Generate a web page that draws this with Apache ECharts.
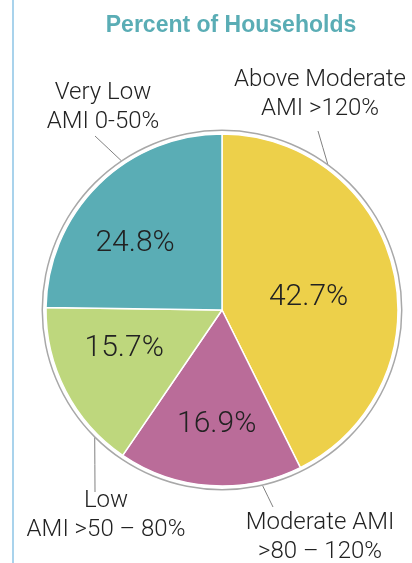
<!DOCTYPE html>
<html>
<head>
<meta charset="utf-8">
<script src="https://cdn.jsdelivr.net/npm/echarts@6/dist/echarts.min.js"></script>
<style>
  html, body { margin: 0; padding: 0; background: #fff; }
  #chart { width: 412px; height: 563px; }
</style>
</head>
<body>
<div id="chart"></div>
<script>
// data, clockwise from 12 o'clock
const categories = ["Above Moderate\nAMI >120%", "Moderate AMI\n>80 – 120%", "Low\nAMI >50 – 80%", "Very Low\nAMI 0-50%"];
const shares = [42.7, 16.9, 15.7, 24.8];
const colors = ["#EDD04A", "#BA6C99", "#BED77D", "#5AADB5"];

// where the outside names sit
const namePos = [[320, 94], [320, 537], [106, 515], [103, 107]];
// leader lines: angle where they touch the ring, and their far end relative to the name
const leadAngle = [54, -77, 225, 124];
const leadEnd = [[-2, 37], [-47, -30], [-11, -23], [-8, 29]];
// nudges for the percent labels
const pctShift = [[-2, 8], [1, 24], [-17, -3], [-23, -2]];

const chart = echarts.init(document.getElementById("chart"));

const center = [222, 310];
const ringR = 180;

const option = {
  animation: false,
  title: {
    text: "Percent of Households",
    left: 226,
    top: 9,
    textAlign: "center",
    textStyle: { color: "#5AADB5", fontSize: 23, fontWeight: "bold", fontFamily: "Liberation Sans" }
  },
  graphic: [
    { type: "line", shape: { x1: 13, y1: 0, x2: 13, y2: 563 }, style: { stroke: "#A9D3EC", lineWidth: 2 } }
  ],
  series: [
    // outer thin ring
    {
      type: "pie",
      silent: true,
      center: center,
      radius: [ringR - 1, ringR + 0.5],
      label: { show: false },
      labelLine: { show: false },
      itemStyle: { color: "#A8A8A8" },
      data: [1]
    },
    // slices + percentages
    {
      type: "pie",
      silent: true,
      center: center,
      radius: 176,
      startAngle: 90,
      clockwise: true,
      itemStyle: { borderColor: "#fff", borderWidth: 1.5 },
      label: {
        position: "inside",
        formatter: "{c}%",
        color: "#222",
        fontSize: 30,
        fontFamily: "Roboto",
        fontWeight: 300
      },
      labelLine: { show: false },
      labelLayout: function (p) {
        return { dx: pctShift[p.dataIndex][0], dy: pctShift[p.dataIndex][1] };
      },
      data: shares.map((v, i) => ({ value: v, name: categories[i], itemStyle: { color: colors[i] } }))
    },
    // invisible copy carrying the outside names
    {
      type: "pie",
      silent: true,
      center: center,
      radius: ringR,
      startAngle: 90,
      avoidLabelOverlap: false,
      itemStyle: { color: "rgba(0,0,0,0)" },
      label: {
        position: "outside",
        formatter: "{b}",
        color: "#222",
        fontSize: 24,
        lineHeight: 29,
        align: "center",
        overflow: "none",
        fontFamily: "Roboto",
        fontWeight: 300
      },
      labelLine: { show: true, length: 0, length2: 0, lineStyle: { color: "#808080", width: 1 } },
      labelLayout: function (p) {
        const i = p.dataIndex;
        const pos = namePos[i];
        const a = leadAngle[i] * Math.PI / 180;
        const x0 = center[0] + ringR * Math.cos(a);
        const y0 = center[1] - ringR * Math.sin(a);
        const x1 = pos[0] + leadEnd[i][0];
        const y1 = pos[1] + leadEnd[i][1];
        return {
          x: pos[0], y: pos[1], align: "center", verticalAlign: "middle",
          labelLinePoints: [[x0, y0], [(x0 + x1) / 2, (y0 + y1) / 2], [x1, y1]]
        };
      },
      data: shares.map((v, i) => ({ value: v, name: categories[i] }))
    }
  ]
};

chart.setOption(option);
</script>
</body>
</html>
